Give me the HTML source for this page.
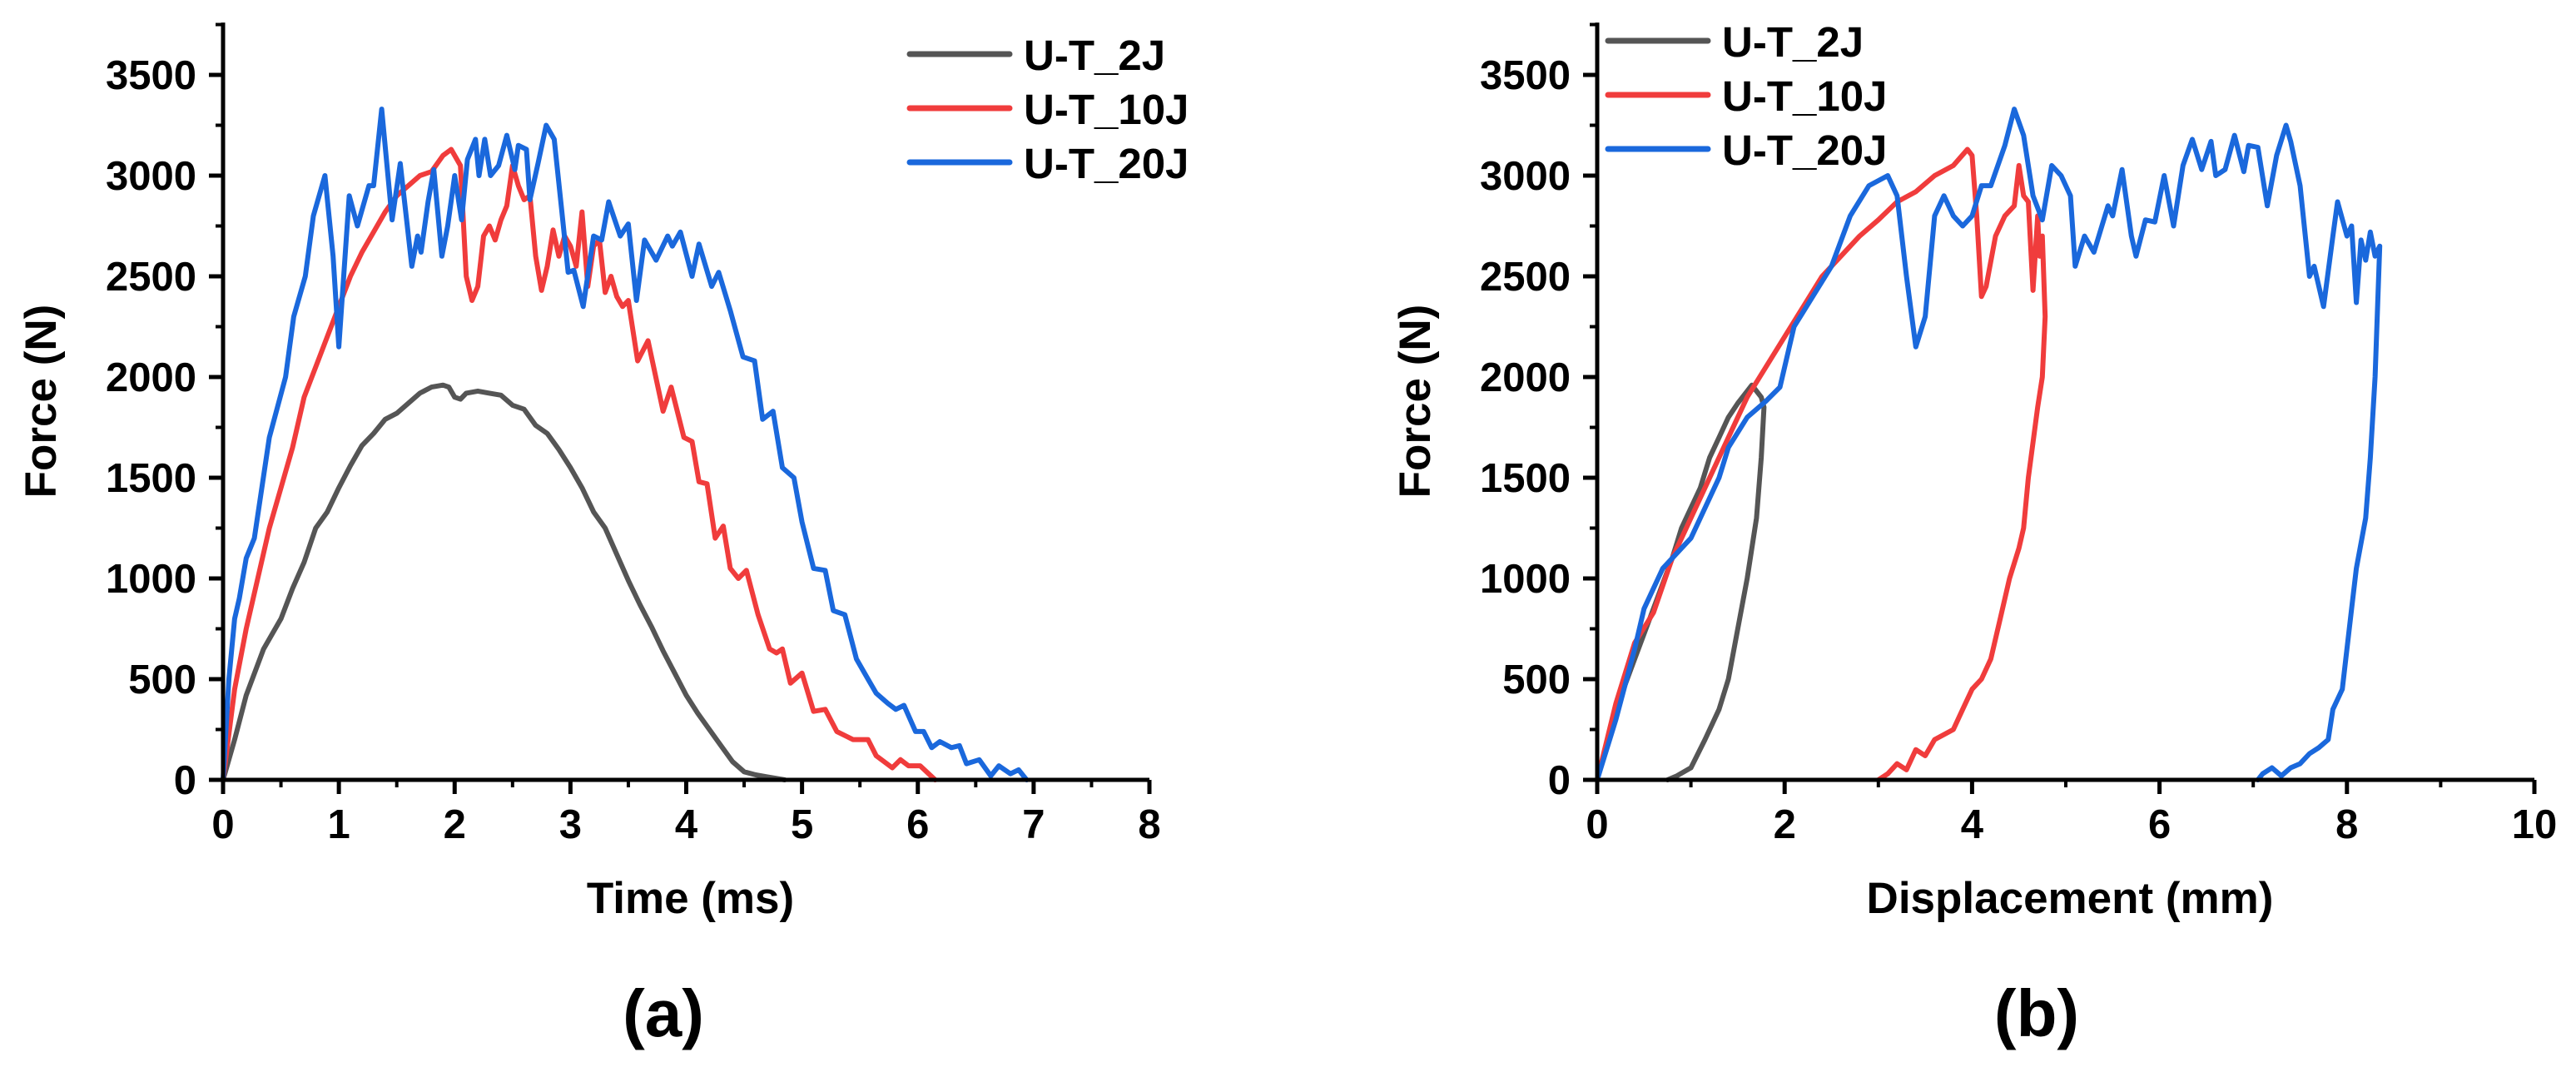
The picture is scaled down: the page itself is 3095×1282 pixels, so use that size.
<!DOCTYPE html>
<html><head><meta charset="utf-8">
<style>
html,body{margin:0;padding:0;background:#fff;}
svg{display:block;}
text{font-family:"Liberation Sans",Arial,sans-serif;font-weight:bold;fill:#000;}
</style></head>
<body>
<svg id="fig" width="3095" height="1282" viewBox="0 0 3095 1282" xmlns="http://www.w3.org/2000/svg"></svg>
<script>
// ---- data (panel a: time in ms vs force N) ----
const seriesNames = ["U-T_2J","U-T_10J","U-T_20J"];
const seriesColors = ["#555555","#f03c3c","#1a68dc"];
const yTicks = [0,500,1000,1500,2000,2500,3000,3500];
const xTicksA = [0,1,2,3,4,5,6,7,8];
const xTicksB = [0,2,4,6,8,10];

const timeA2 = [0,0.1,0.2,0.35,0.5,0.6,0.7,0.8,0.9,1.0,1.1,1.2,1.3,1.4,1.5,1.6,1.7,1.8,1.9,1.95,2.0,2.05,2.1,2.2,2.3,2.4,2.5,2.6,2.7,2.8,2.9,3.0,3.1,3.2,3.3,3.4,3.5,3.6,3.7,3.8,3.9,4.0,4.1,4.2,4.3,4.4,4.5,4.6,4.7,4.85];
const forceA2 = [0,200,420,650,800,950,1080,1250,1330,1450,1560,1660,1720,1790,1820,1870,1920,1950,1960,1950,1900,1890,1920,1930,1920,1910,1860,1840,1760,1720,1640,1550,1450,1330,1250,1120,990,870,760,640,530,420,330,250,170,90,40,25,15,0];

const timeA10 = [0,0.1,0.2,0.3,0.4,0.5,0.6,0.7,0.8,0.9,1.0,1.1,1.2,1.3,1.4,1.5,1.6,1.7,1.8,1.9,1.97,2.05,2.1,2.15,2.2,2.25,2.3,2.35,2.4,2.45,2.5,2.55,2.6,2.65,2.7,2.75,2.8,2.85,2.9,2.95,3.0,3.05,3.1,3.15,3.2,3.25,3.3,3.35,3.4,3.45,3.5,3.58,3.67,3.8,3.87,3.98,4.05,4.11,4.18,4.25,4.32,4.38,4.45,4.52,4.62,4.72,4.78,4.83,4.9,5.0,5.1,5.2,5.3,5.44,5.57,5.64,5.78,5.85,5.92,6.02,6.15];
const forceA10 = [0,450,750,1000,1250,1450,1650,1900,2050,2200,2350,2500,2620,2720,2820,2900,2950,3000,3020,3100,3130,3050,2500,2380,2450,2700,2750,2680,2780,2850,3050,2950,2880,2900,2600,2430,2550,2730,2600,2700,2650,2550,2820,2450,2650,2680,2420,2500,2400,2350,2380,2080,2180,1830,1950,1700,1680,1480,1470,1200,1260,1050,1000,1040,820,650,630,650,480,530,340,350,240,200,200,120,60,100,70,70,0];

const timeA20 = [0,0.05,0.1,0.14,0.2,0.27,0.4,0.54,0.61,0.71,0.78,0.88,0.95,1.0,1.09,1.16,1.26,1.3,1.37,1.46,1.53,1.63,1.68,1.71,1.77,1.82,1.89,1.94,2.0,2.06,2.11,2.18,2.21,2.26,2.31,2.38,2.45,2.52,2.55,2.62,2.65,2.72,2.79,2.86,2.93,2.98,3.03,3.11,3.2,3.27,3.33,3.43,3.5,3.57,3.64,3.74,3.84,3.88,3.95,4.05,4.11,4.22,4.28,4.38,4.49,4.59,4.66,4.75,4.83,4.93,5.0,5.1,5.2,5.27,5.37,5.47,5.57,5.64,5.74,5.81,5.88,5.98,6.05,6.12,6.19,6.29,6.36,6.42,6.53,6.63,6.7,6.8,6.87,6.94];
const forceA20 = [0,500,800,900,1100,1200,1700,2000,2300,2500,2800,3000,2600,2150,2900,2750,2950,2950,3330,2780,3060,2550,2700,2620,2870,3030,2600,2750,3000,2780,3080,3180,3000,3180,3000,3050,3200,3030,3150,3130,2880,3060,3250,3180,2800,2520,2530,2350,2700,2680,2870,2700,2760,2380,2680,2580,2700,2650,2720,2500,2660,2450,2520,2330,2100,2080,1790,1830,1550,1500,1280,1050,1040,840,820,600,500,430,380,350,370,240,240,160,190,160,170,80,100,20,70,30,50,0];

// ---- data (panel b: displacement mm vs force N) ----
const dispB2 = [0,0.2,0.4,0.6,0.8,0.9,1.0,1.1,1.2,1.3,1.4,1.5,1.6,1.65,1.7,1.75,1.78,1.75,1.7,1.6,1.5,1.4,1.3,1.15,1.0,0.85,0.75];
const forceB2 = [0,350,600,850,1100,1250,1350,1450,1600,1700,1800,1870,1930,1960,1930,1900,1850,1600,1300,1000,750,500,350,200,60,20,0];

const dispB10 = [0,0.2,0.4,0.6,0.8,1.0,1.2,1.4,1.6,1.8,2.0,2.2,2.4,2.6,2.8,3.0,3.2,3.4,3.6,3.8,3.95,4.0,4.05,4.1,4.15,4.25,4.35,4.45,4.5,4.55,4.6,4.65,4.7,4.72,4.75,4.78,4.75,4.7,4.6,4.55,4.5,4.4,4.3,4.2,4.1,4.0,3.9,3.8,3.6,3.5,3.4,3.3,3.2,3.1,3.0];
const forceB10 = [0,380,680,830,1100,1300,1500,1700,1900,2050,2200,2350,2500,2600,2700,2780,2870,2920,3000,3050,3130,3100,2800,2400,2450,2700,2800,2850,3050,2900,2870,2430,2800,2600,2700,2300,2000,1850,1500,1250,1150,1000,800,600,500,450,350,250,200,120,150,50,80,30,0];

const dispB20 = [0,0.2,0.4,0.5,0.7,0.9,1.0,1.1,1.3,1.4,1.6,1.8,1.95,2.1,2.3,2.5,2.7,2.9,3.1,3.2,3.3,3.4,3.5,3.6,3.7,3.8,3.9,4.0,4.1,4.2,4.35,4.45,4.55,4.65,4.75,4.85,4.95,5.05,5.1,5.2,5.3,5.45,5.5,5.6,5.7,5.75,5.85,5.95,6.05,6.15,6.25,6.35,6.45,6.55,6.6,6.7,6.8,6.9,6.95,7.05,7.15,7.25,7.35,7.4,7.5,7.6,7.65,7.75,7.85,7.9,8.0,8.05,8.1,8.15,8.2,8.25,8.3,8.35,8.3,8.25,8.2,8.1,8.05,8.0,7.95,7.85,7.8,7.7,7.6,7.5,7.4,7.3,7.2,7.1,7.05];
const forceB20 = [0,300,650,850,1050,1150,1200,1300,1500,1650,1800,1880,1950,2250,2400,2550,2800,2950,3000,2900,2500,2150,2300,2800,2900,2800,2750,2800,2950,2950,3150,3330,3200,2900,2780,3050,3000,2900,2550,2700,2620,2850,2800,3030,2700,2600,2780,2770,3000,2750,3050,3180,3030,3170,3000,3030,3200,3020,3150,3140,2850,3100,3250,3170,2950,2500,2550,2350,2700,2870,2700,2750,2370,2680,2580,2720,2600,2650,2000,1600,1300,1050,850,650,450,350,200,160,130,80,60,20,60,30,0];

const NS = "http://www.w3.org/2000/svg";
const svg = document.getElementById('fig');
function mk(tag, attrs, parent){ const e=document.createElementNS(NS,tag); for(const k in attrs) e.setAttribute(k,attrs[k]); (parent||svg).appendChild(e); return e; }

function panel(cfg){
  const g = mk('g',{});
  
  
  const X0=cfg.x0, X1=cfg.x1, Y0=937, Y3500=90;
  const sx = v => X0 + (v - cfg.xmin)/(cfg.xmax-cfg.xmin)*(X1-X0);
  const sy = v => Y0 - v/3500*(Y0-Y3500);
  cfg.series.forEach((s,i)=>{
    const pts = s.x.map((xv,j)=>sx(xv).toFixed(1)+','+sy(s.y[j]).toFixed(1)).join(' ');
    const pl = mk('polyline',{points:pts,fill:'none',stroke:seriesColors[i],'stroke-width':6,'stroke-linejoin':'round','stroke-linecap':'round'},g);
    
    
  });
  const ax = mk('path',{d:`M${X0},${sy(3760)} V${Y0} H${X1}`,fill:'none',stroke:'#000','stroke-width':5},g);
  
  
  yTicks.forEach(v=>{
    const y=sy(v);
    mk('line',{x1:X0-17,x2:X0,y1:y,y2:y,stroke:'#000','stroke-width':5},g);
    const t=mk('text',{x:X0-32,y:y+17,'text-anchor':'end','font-size':49},g);
    t.textContent=v;
    
    
    if(v<3750){ const ym=sy(v+250); mk('line',{x1:X0-9,x2:X0,y1:ym,y2:ym,stroke:'#000','stroke-width':4},g); }
  });
  cfg.xticks.forEach((v,i)=>{
    const x=sx(v);
    mk('line',{x1:x,x2:x,y1:Y0,y2:Y0+17,stroke:'#000','stroke-width':5},g);
    const t=mk('text',{x:x,y:1007,'text-anchor':'middle','font-size':49},g);
    t.textContent=v;
    
    
    if(i<cfg.xticks.length-1){ const xm=sx(v+cfg.minor); mk('line',{x1:xm,x2:xm,y1:Y0,y2:Y0+9,stroke:'#000','stroke-width':4},g); }
  });
  const yt=mk('text',{x:0,y:0,'text-anchor':'middle','font-size':53,transform:`translate(${cfg.ytx},${(Y0+27)/2}) rotate(-90)`},g);
  yt.textContent='Force (N)';
  
  
  const xt=mk('text',{x:(X0+X1)/2+5,y:1097,'text-anchor':'middle','font-size':53},g);
  xt.textContent=cfg.xtitle;
  
  
  const pl=mk('text',{x:cfg.labelX,y:1245,'text-anchor':'middle','font-size':80},g);
  pl.textContent=cfg.label;
  
  
  seriesNames.forEach((n,i)=>{
    const y=cfg.legY+i*65;
    const ln=mk('line',{x1:cfg.legX,x2:cfg.legX+120,y1:y,y2:y,stroke:seriesColors[i],'stroke-width':7,'stroke-linecap':'round'},g);
    
    
    const t=mk('text',{x:cfg.legX+137,y:y+19,'font-size':51},g);
    t.textContent=n;
    
    
  });
}

panel({name:'chart-a-force-time',x0:268,x1:1381,xmin:0,xmax:8,xticks:xTicksA,minor:0.5,xtitle:'Time (ms)',label:'(a)',labelX:797,ytx:67,legX:1093,legY:65,
  series:[{x:timeA2,y:forceA2},{x:timeA10,y:forceA10},{x:timeA20,y:forceA20}]});
panel({name:'chart-b-force-displacement',x0:1919,x1:3045,xmin:0,xmax:10,xticks:xTicksB,minor:1,xtitle:'Displacement (mm)',label:'(b)',labelX:2447,ytx:1718,legX:1932,legY:49,
  series:[{x:dispB2,y:forceB2},{x:dispB10,y:forceB10},{x:dispB20,y:forceB20}]});
</script>
</body></html>
